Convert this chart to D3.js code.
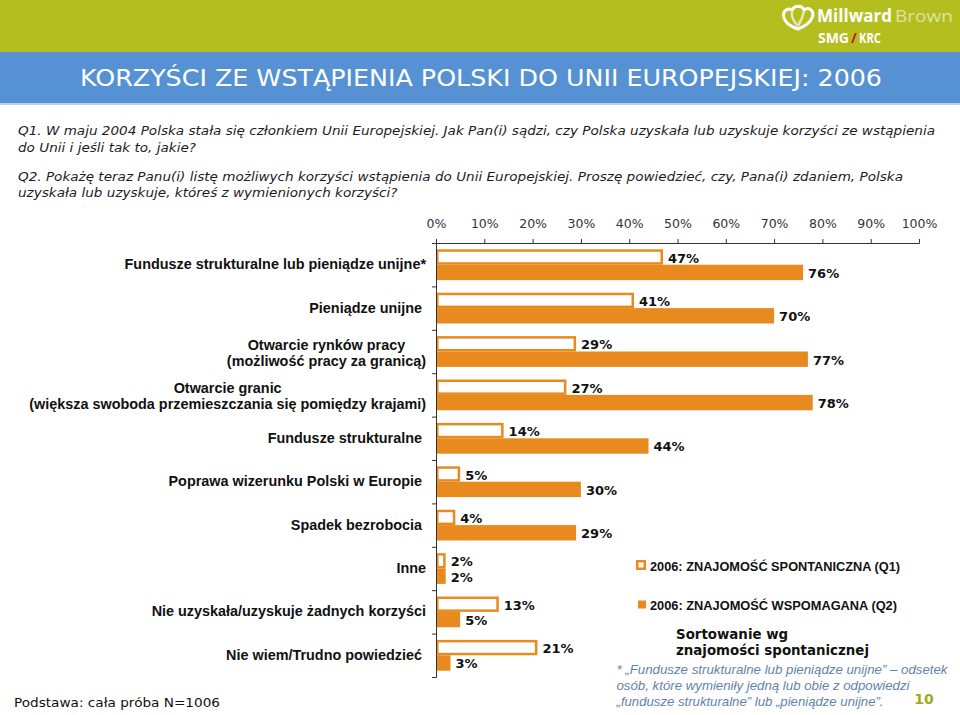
<!DOCTYPE html>
<html><head><meta charset="utf-8">
<script src="https://cdn.jsdelivr.net/npm/d3@7"></script>
<style>body{margin:0;background:#fff} svg{display:block} .pre{white-space:pre}</style>
</head><body>
<svg id="c" width="960" height="715"></svg>
<script>
// ---------- data ----------
const categories = [
  "Fundusze strukturalne lub pieniądze unijne*",
  "Pieniądze unijne ",
  "Otwarcie rynków pracy\n(możliwość pracy za granicą)",
  "Otwarcie granic\n(większa swoboda przemieszczania się pomiędzy krajami)",
  "Fundusze strukturalne ",
  "Poprawa wizerunku Polski w Europie ",
  "Spadek bezrobocia ",
  "Inne",
  "Nie uzyskała/uzyskuje żadnych korzyści",
  "Nie wiem/Trudno powiedzieć "
];
const spontaneousQ1 = [47, 41, 29, 27, 14, 5, 4, 2, 13, 21];
const aidedQ2       = [76, 70, 77, 78, 44, 30, 29, 2, 5, 3];
const tickValues = [0, 10, 20, 30, 40, 50, 60, 70, 80, 90, 100];
const seriesNames = ["2006: ZNAJOMOŚĆ SPONTANICZNA (Q1)", "2006: ZNAJOMOŚĆ WSPOMAGANA (Q2)"];
const title = "KORZYŚCI ZE WSTĄPIENIA POLSKI DO UNII EUROPEJSKIEJ: 2006";
const questionLines = [
  "Q1. W maju 2004 Polska stała się członkiem Unii Europejskiej. Jak Pan(i) sądzi, czy Polska uzyskała lub uzyskuje korzyści ze wstąpienia",
  "do Unii i jeśli tak to, jakie?",
  "Q2. Pokażę teraz Panu(i) listę możliwych korzyści wstąpienia do Unii Europejskiej. Proszę powiedzieć, czy, Pana(i) zdaniem, Polska",
  "uzyskała lub uzyskuje, któreś z wymienionych korzyści?"
];
const sortNote = ["Sortowanie wg", "znajomości spontanicznej"];
const footnote = [
  "* „Fundusze strukturalne lub pieniądze unijne” – odsetek",
  "osób, które wymieniły jedną lub obie z odpowiedzi",
  "„fundusze strukturalne” lub „pieniądze unijne”."
];
const baseNote = "Podstawa: cała próba N=1006";
const pageNumber = "10";
const logoWords = ["Millward", "Brown", "SMG", "/", "KRC"];

// ---------- styles ----------
const ORANGE = "#e98a1f";
const GREEN = "#b4be1e";
const BLUE = "#5591d3";

const svg = d3.select("#c");

function fitW(sel, w) {
  sel.attr("textLength", w).attr("lengthAdjust", "spacingAndGlyphs");
  return sel;
}

// ---------- header ----------
svg.append("rect").attr("x", 0).attr("y", 0).attr("width", 960).attr("height", 52).attr("fill", GREEN);
svg.append("rect").attr("x", 0).attr("y", 52).attr("width", 960).attr("height", 51).attr("fill", BLUE);
svg.append("rect").attr("x", 0).attr("y", 103).attr("width", 960).attr("height", 2).attr("fill", "#b9cfe9");

fitW(svg.append("text").attr("x", 80).attr("y", 86)
  .attr("font-family", "DejaVu Sans").attr("font-size", 23).attr("fill", "#fff")
  .text(title), 802);

// logo
const logo = svg.append("g").attr("font-family", "Open Sans");
logo.append("path")
  .attr("d", "M785,20 C781,13 786,7 792,10 C795,5 802,5 804,10 C809,6 815,11 812,18 C810,23 803,27 798,29 C792,27 787,24 785,20 Z")
  .attr("fill", "none").attr("stroke", "#fff").attr("stroke-width", 3);
logo.append("path")
  .attr("d", "M792,11 C791,17 794,22 798,26 M804,11 C803,16 801,21 798,26")
  .attr("fill", "none").attr("stroke", "#e4e8b8").attr("stroke-width", 2.5);
fitW(logo.append("text").attr("x", 817).attr("y", 22)
  .attr("font-weight", "bold").attr("font-size", 17).attr("fill", "#fff")
  .text(logoWords[0]), 75);
fitW(logo.append("text").attr("x", 895).attr("y", 22)
  .attr("font-size", 17).attr("fill", "#dfe3a6")
  .text(logoWords[1]), 58);
fitW(logo.append("text").attr("x", 818).attr("y", 43)
  .attr("font-weight", "bold").attr("font-size", 14).attr("fill", "#fff").text(logoWords[2]), 31);
logo.append("text").attr("x", 851).attr("y", 43)
  .attr("font-weight", "bold").attr("font-size", 14).attr("fill", "#c8102e").text(logoWords[3]);
fitW(logo.append("text").attr("x", 859).attr("y", 43)
  .attr("font-weight", "bold").attr("font-size", 14).attr("fill", "#fff").text(logoWords[4]), 22);

// ---------- questions ----------
const qY = [134.5, 151.5, 180.5, 197];
const qText = svg.append("g").attr("font-family", "DejaVu Sans").attr("font-style", "italic")
  .attr("font-size", 12.5).attr("fill", "#1c1c1c");
const qNodes = questionLines.map((t, i) => qText.append("text").attr("x", 18).attr("y", qY[i]).text(t));
const ratio = 917 / qNodes[0].node().getComputedTextLength();
qNodes.forEach(n => fitW(n, n.node().getComputedTextLength() * ratio));

// ---------- scales ----------
const x = d3.scaleLinear().domain([0, 100]).range([436, 919]);
const y = d3.scaleBand().domain(d3.range(categories.length)).range([243, 677]).padding(0);
const sub = d3.scaleBand().domain([0, 1]).range([0, y.bandwidth()]).paddingInner(0).paddingOuter(0.41);
const yIdx = d3.scaleLinear().domain([0, categories.length]).range([243, 677]);

// ---------- bars ----------
const sw = 2.5;
svg.append("g").selectAll("rect").data(spontaneousQ1).join("rect")
  .attr("x", x(0) + sw / 2)
  .attr("y", (d, i) => y(i) + sub(0) + sw / 2)
  .attr("width", d => Math.max(0, x(d) - x(0) - sw))
  .attr("height", sub.bandwidth() - sw)
  .attr("fill", "#fff").attr("stroke", ORANGE).attr("stroke-width", sw);
svg.append("g").selectAll("rect").data(aidedQ2).join("rect")
  .attr("x", x(0))
  .attr("y", (d, i) => y(i) + sub(1))
  .attr("width", d => x(d) - x(0))
  .attr("height", sub.bandwidth())
  .attr("fill", ORANGE);

// value labels
const vl = svg.append("g").attr("font-family", "DejaVu Sans").attr("font-weight", "bold")
  .attr("font-size", 13).attr("fill", "#111");
vl.selectAll("text.q1").data(spontaneousQ1).join("text").attr("class", "q1")
  .attr("x", d => x(d) + 5)
  .attr("y", (d, i) => y(i) + sub(0) + sub.bandwidth() / 2 + 5.5)
  .text(d => d + "%");
vl.selectAll("text.q2").data(aidedQ2).join("text").attr("class", "q2")
  .attr("x", d => x(d) + 5)
  .attr("y", (d, i) => y(i) + sub(1) + sub.bandwidth() / 2 + 5.5)
  .text(d => d + "%");

// ---------- axes ----------
const axT = svg.append("g").attr("transform", `translate(0,243)`)
  .call(d3.axisTop(x).tickValues(tickValues).tickSize(4).tickPadding(11).tickFormat(d => d + "%"));
axT.attr("font-family", "DejaVu Sans").attr("font-size", 12.5);
axT.selectAll("text").attr("fill", "#333");
axT.selectAll("path,line").attr("stroke", "#333");

const axL = svg.append("g").attr("transform", `translate(436,0)`)
  .call(d3.axisLeft(yIdx).tickValues(d3.range(categories.length + 1)).tickSize(4).tickFormat(""));
axL.selectAll("path,line").attr("stroke", "#333");

// ---------- category labels ----------
const cl = svg.append("g").attr("font-family", "Liberation Sans").attr("font-weight", "bold")
  .attr("font-size", 14.4).attr("fill", "#111");
const RIGHT = 426;
categories.forEach((c, i) => {
  const lines = c.split("\n");
  const bc = y(i) + y.bandwidth() / 2;
  if (lines.length === 1) {
    cl.append("text").attr("class", "pre").attr("x", RIGHT).attr("y", bc + 4.5)
      .attr("text-anchor", "end").text(lines[0]);
  } else {
    const ts = lines.map((l, k) => cl.append("text").attr("class", "pre")
      .attr("y", bc + (k === 0 ? -2 : 14.5)).attr("text-anchor", "middle").text(l));
    const maxW = d3.max(ts, t => t.node().getComputedTextLength());
    ts.forEach(t => t.attr("x", RIGHT - maxW / 2));
  }
});

// ---------- legend ----------
const lg = svg.append("g");
lg.append("rect").attr("x", 637.25).attr("y", 561.25).attr("width", 7.5).attr("height", 7.5)
  .attr("fill", "#fff").attr("stroke", ORANGE).attr("stroke-width", 2.5);
lg.append("rect").attr("x", 638).attr("y", 600.5).attr("width", 8).attr("height", 8).attr("fill", ORANGE);
const legY = [570.5, 609.5], legW = [250, 247];
seriesNames.forEach((s, i) => {
  fitW(lg.append("text").attr("x", 650).attr("y", legY[i])
    .attr("font-family", "Liberation Sans").attr("font-weight", "bold").attr("font-size", 12.7)
    .attr("fill", "#111").text(s), legW[i]);
});

// sort note
const sn = svg.append("g").attr("font-family", "DejaVu Sans").attr("font-weight", "bold")
  .attr("font-size", 13.5).attr("fill", "#111");
const snNodes = sortNote.map((t, i) => sn.append("text").attr("x", 676).attr("y", [638.5, 655][i]).text(t));
const snRatio = 193 / snNodes[1].node().getComputedTextLength();
snNodes.forEach(n => fitW(n, n.node().getComputedTextLength() * snRatio));

// footnote
const fn = svg.append("g").attr("font-family", "Liberation Sans").attr("font-style", "italic")
  .attr("font-size", 13).attr("fill", "#6383aa");
const fnY = [674, 690, 706], fnW = [331, 293, 267];
footnote.forEach((t, i) => fitW(fn.append("text").attr("x", 616.5).attr("y", fnY[i]).text(t), fnW[i]));

// page number
svg.append("text").attr("x", 924).attr("y", 704).attr("text-anchor", "middle")
  .attr("font-family", "DejaVu Sans").attr("font-weight", "bold").attr("font-size", 14)
  .attr("fill", "#a2aa1c").text(pageNumber);

// base note
fitW(svg.append("text").attr("x", 14).attr("y", 707)
  .attr("font-family", "DejaVu Sans").attr("font-size", 13).attr("fill", "#111")
  .text(baseNote), 206);
</script>
</body></html>
